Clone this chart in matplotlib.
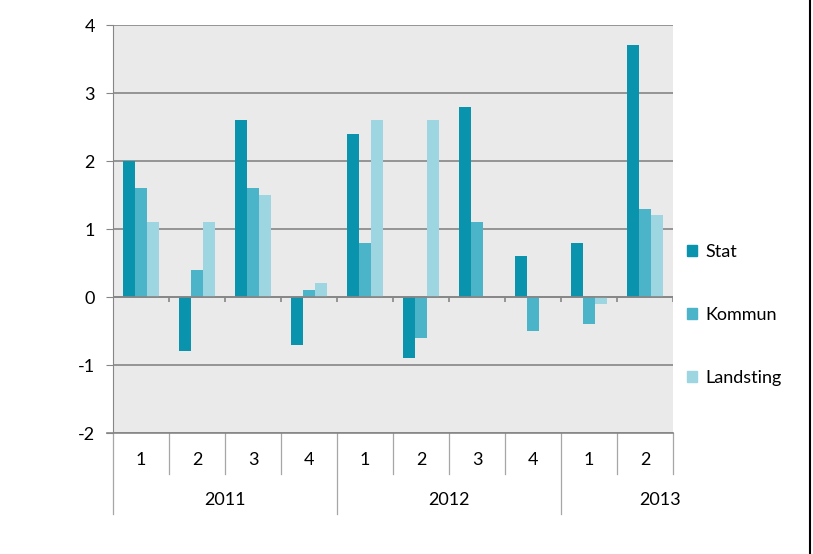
import numpy as np
import matplotlib
matplotlib.use("Agg")
import matplotlib.pyplot as plt
from matplotlib.patches import Patch
from matplotlib.lines import Line2D
from matplotlib.transforms import blended_transform_factory

plt.rcParams['font.family'] = ['Lato', 'DejaVu Sans']
plt.rcParams['axes.unicode_minus'] = False

# data
quarters = ['1', '2', '3', '4', '1', '2', '3', '4', '1', '2']
years = ['2011', '2012', '2013']
year_spans = [4, 4, 2]
series_names = ['Stat', 'Kommun', 'Landsting']
stat = [2.0, -0.8, 2.6, -0.7, 2.4, -0.9, 2.8, 0.6, 0.8, 3.7]
kommun = [1.6, 0.4, 1.6, 0.1, 0.8, -0.6, 1.1, -0.5, -0.4, 1.3]
landsting = [1.1, 1.1, 1.5, 0.2, 2.6, 2.6, 0.0, 0.0, -0.1, 1.2]
colors = ['#0a93ac', '#4cb4c9', '#9dd5e1']

fig = plt.figure(figsize=(8.13, 5.54), dpi=100)
ax = fig.add_axes([113 / 813, 1 - 433 / 554, 560 / 813, 408 / 554])
ax.set_facecolor('#eaeaea')

x = np.arange(len(quarters))
w = 0.22
for i, (vals, c) in enumerate(zip([stat, kommun, landsting], colors)):
    ax.bar(x + (i - 1) * w, vals, width=w, color=c, zorder=3, label=series_names[i])

ax.set_xlim(-0.5, len(quarters) - 0.5)
ax.set_ylim(-2, 4)
ax.set_yticks(range(-2, 5))
ax.tick_params(axis='y', length=5, color='#868686', labelsize=13, pad=8)
ax.set_xticks([])
for s in ['top', 'right', 'bottom']:
    ax.spines[s].set_visible(False)
ax.spines['left'].set_color('#868686')
ax.yaxis.grid(True, color='#868686', linewidth=1.2, zorder=1)

# zero axis with tick marks at category boundaries
ax.axhline(0, color='#868686', linewidth=1.2, zorder=4)
bounds = np.arange(len(quarters) + 1) - 0.5
ax.vlines(bounds, -0.08, 0, color='#868686', linewidth=1.2, zorder=4)

# bottom axis line, slightly extended left
trans = blended_transform_factory(ax.transAxes, ax.transData)
ax.add_line(Line2D([-0.011, 1], [-2, -2], transform=trans, color='#868686',
                   linewidth=1.2, clip_on=False, zorder=5))

# two-level category labels
tb = blended_transform_factory(ax.transData, ax.transAxes)
for xi, q in zip(x, quarters):
    ax.text(xi, -0.066, q, transform=tb, ha='center', va='center', fontsize=13)
year_starts = np.cumsum([0] + year_spans[:-1])
for b in bounds:
    is_year = (b + 0.5) in year_starts
    y_end = -0.198 if is_year else -0.1005
    ax.add_line(Line2D([b, b], [0, y_end], transform=tb, color='#a6a6a6',
                       linewidth=0.9, clip_on=False))
# Excel centres the last year label as if its span were wider
year_label_x = [1.5, 5.5, 9.27]
for xl, yr in zip(year_label_x, years):
    ax.text(xl, -0.164, yr, transform=tb, ha='center', va='center', fontsize=13)

handles = [Patch(color=c) for c in colors]
fig.legend(handles, series_names, loc='center left', bbox_to_anchor=(671 / 813, 1 - 315 / 554),
           frameon=False, fontsize=13, handlelength=0.55, handleheight=0.55,
           handletextpad=0.45, labelspacing=2.6)

# right border line
fig.add_artist(Line2D([810 / 813, 810 / 813], [0, 1], color='black', linewidth=1.5))

fig.savefig('out.png', dpi=100)
